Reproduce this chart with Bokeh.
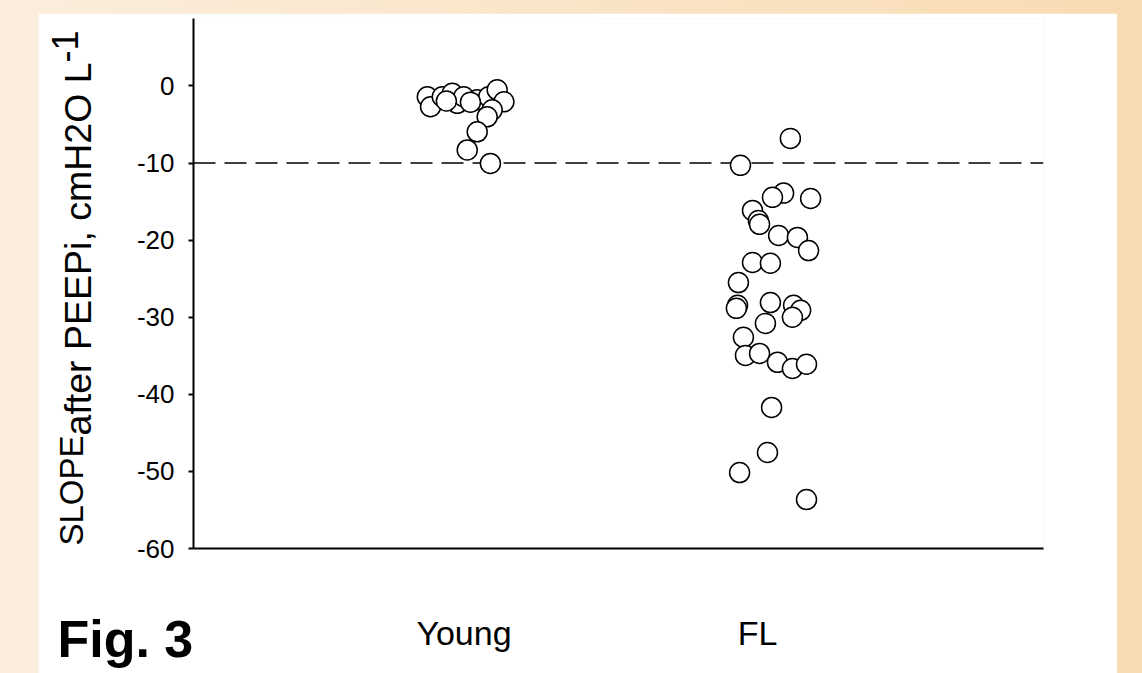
from bokeh.plotting import figure
from bokeh.models import Range1d, FixedTicker, Span, Title
from bokeh.embed import file_html
from bokeh.resources import INLINE

# ---- data ----
categories = ["Young", "FL"]
category_pos = [1, 2]

young_jitter = [-0.125, -0.114, -0.074, -0.040, -0.023, -0.001, 0.045, 0.084, 0.113,
                0.136, 0.096, 0.079, 0.045, 0.011, 0.090, -0.060, 0.022]
young_values = [-1.4, -2.7, -1.4, -0.95, -2.25, -1.4, -1.8, -1.4, -0.5,
                -2.05, -3.1, -4.0, -5.95, -8.3, -10.05, -1.95, -2.1]

fl_jitter = [0.112, -0.058, 0.089, 0.051, 0.181, -0.017, 0.003, 0.007, 0.072, 0.136,
             0.174, -0.017, 0.044, -0.065, -0.068, -0.072, 0.044, 0.123, 0.147, 0.119,
             0.027, -0.048, -0.041, 0.007, 0.068, 0.119, 0.167, 0.048, 0.034, -0.061, 0.167]
fl_values = [-6.8, -10.3, -13.9, -14.45, -14.6, -16.15, -17.45, -17.95, -19.4, -19.65,
             -21.35, -22.9, -23.0, -25.5, -28.45, -28.85, -28.1, -28.45, -29.1, -30.0,
             -30.8, -32.6, -34.95, -34.7, -35.85, -36.65, -36.1, -41.7, -47.55, -50.15, -53.65]

y_ticks = [-60, -50, -40, -30, -20, -10, 0]
y_tick_labels = ["-60", "-50", "-40", "-30", "-20", "-10", "0"]
threshold = -10

# ---- figure ----
x0 = 1 - 270.5 / 293.5
x1 = x0 + 850 / 293.5
p = figure(frame_width=850, frame_height=530,
           x_range=Range1d(x0, x1), y_range=Range1d(-60, 8.75),
           output_backend="svg", toolbar_location=None,
           min_border_left=155, min_border_right=74, min_border_top=5, min_border_bottom=125,
           background_fill_color="white", border_fill_color="white",
           outline_line_color=None, margin=(13, 0, 0, 38))
p.grid.grid_line_color = None

FONT = "Liberation Sans"

ya = p.yaxis[0]
ya.ticker = FixedTicker(ticks=y_ticks)
ya.major_label_overrides = {t: s for t, s in zip(y_ticks, y_tick_labels)}
ya.major_tick_in = 0
ya.major_tick_out = 5
ya.minor_tick_out = 0
ya.minor_tick_in = 0
ya.axis_line_width = 2
ya.major_tick_line_width = 2
ya.major_label_text_font = FONT
ya.major_label_text_font_size = "26px"
ya.major_label_text_color = "black"
ya.major_label_standoff = 14
ya.axis_line_color = "black"

xa = p.xaxis[0]
xa.ticker = FixedTicker(ticks=category_pos)
xa.major_label_overrides = {pos: name for pos, name in zip(category_pos, categories)}
xa.major_tick_in = 0
xa.major_tick_out = 0
xa.minor_tick_in = 0
xa.minor_tick_out = 0
xa.axis_line_width = 2
xa.axis_line_color = "black"
xa.major_label_text_font = FONT
xa.major_label_text_font_size = "34px"
xa.major_label_text_color = "black"
xa.major_label_standoff = 65

p.add_layout(Span(location=threshold, dimension="width", line_color="black",
                  line_width=1.6, line_dash="22 9", level="underlay"))

p.scatter([category_pos[0] + j for j in young_jitter], young_values,
          size=20, fill_color="white", line_color="black", line_width=1.5)
p.scatter([category_pos[1] + j for j in fl_jitter], fl_values,
          size=20, fill_color="white", line_color="black", line_width=1.5)

# ---- y-axis title from pieces (normal / lowered / raised) as side titles ----
W = {"S": .667, "L": .556, "O": .778, "P": .667, "E": .667, "a": .556, "f": .278,
     "t": .278, "e": .556, "r": .333, " ": .278, "i": .222, ",": .278, "c": .5,
     "m": .833, "H": .722, "2": .556, "-": .333, "1": .556}
FRAME_LEFT, FRAME_BOTTOM = 193, 548
AXIS_PANEL_LEFT = 138
pieces = [("SLOPE", 33, 87), ("after PEEPi, cmH2O L", 37.5, 95), ("-1", 36, 89)]
ypos = 545
for txt, fs, base_x in pieces:
    top_x = base_x - 0.9 * fs
    p.add_layout(Title(text=txt, align="left", vertical_align="top",
                       offset=FRAME_BOTTOM - ypos, standoff=2 * (top_x - AXIS_PANEL_LEFT),
                       text_font=FONT, text_font_size=f"{fs}px", text_font_style="normal",
                       text_color="black"), "left")
    ypos -= sum(W[ch] for ch in txt) * fs

p.add_layout(Title(text="Fig. 3", align="left", vertical_align="top",
                   offset=57 - FRAME_LEFT, standoff=-89,
                   text_font=FONT, text_font_size="52px", text_font_style="bold",
                   text_color="black"), "below")

html = file_html(p, INLINE)
style = ("<style>html{background:linear-gradient(to right,#FBEEDD,#F9DBB2);"
         "min-height:100%;overflow:hidden}body{overflow:hidden}</style></head>")
html = html.replace("</head>", style, 1)
open("out.html", "w").write(html)
